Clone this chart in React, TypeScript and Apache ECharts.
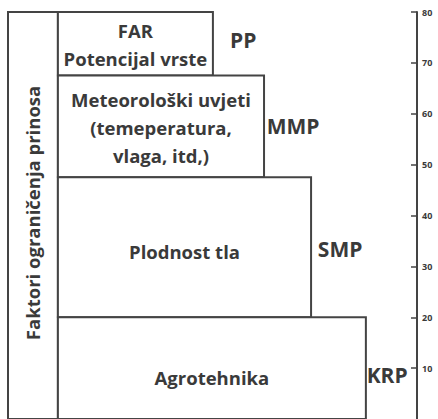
import React, { useEffect, useRef } from "react";
import * as echarts from "echarts";

// Boxes (from top to bottom)
const boxNames = [
  "FAR\nPotencijal vrste",
  "Meteorološki uvjeti\n(temeperatura,\nvlaga, itd,)",
  "Plodnost tla",
  "Agrotehnika",
];
const boxTop = [80, 67.5, 47.5, 20];
const boxBottom = [67.5, 47.5, 20, 0];
const boxLeft = [12.2, 12.2, 12.2, 12.2];
const boxRight = [50.1, 62.6, 74.1, 87.5];
const boxTextY = [73.7, 57.3, 32.9, 8.1];

// Level labels to the right of each box
const levelLabels = ["PP", "MMP", "SMP", "KRP"];
const levelLabelX = [57.5, 69.7, 81.2, 92.7];
const levelLabelY = [74.5, 57.6, 33.5, 8.6];

// Left frame with rotated title
const frameTitle = "Faktori ograničenja prinosa";
const frameRange = [0, 12.2, 0, 80];

// Axis
const yMin = 0;
const yMax = 80;
const yInterval = 10;

const FONT = '"Open Sans", "Noto Sans", sans-serif';
const TEXT_COLOR = "#3a3a3a";
const LINE_COLOR = "#444";

export default function App() {
  const ref = useRef<HTMLDivElement>(null);

  useEffect(() => {
    if (!ref.current) return;
    const chart = echarts.init(ref.current, undefined, { renderer: "svg" });

    const boxData = boxNames.map((_, i) => [
      boxLeft[i],
      boxRight[i],
      boxBottom[i],
      boxTop[i],
      boxTextY[i],
      levelLabelX[i],
      levelLabelY[i],
    ]);

    const option: any = {
      animation: false,
      backgroundColor: "#fff",
      grid: { left: 8, top: 12, width: 409, height: 411.4 },
      xAxis: { type: "value", min: 0, max: 100, show: false },
      yAxis: {
        type: "value",
        position: "right",
        min: yMin,
        max: yMax,
        interval: yInterval,
        axisLine: { show: true, onZero: false, lineStyle: { color: LINE_COLOR, width: 2 } },
        axisTick: { show: true, inside: true, length: 6, lineStyle: { color: LINE_COLOR, width: 1.5 } },
        axisLabel: {
          color: TEXT_COLOR,
          fontSize: 9,
          fontWeight: "bold",
          fontFamily: FONT,
          margin: 5,
          showMinLabel: false,
        },
        splitLine: { show: false },
      },
      series: [
        {
          type: "custom",
          clip: false,
          data: [frameRange],
          renderItem: (params: any, api: any) => {
            const p0 = api.coord([api.value(0), api.value(3)]);
            const p1 = api.coord([api.value(1), api.value(2)]);
            const c = api.coord([(api.value(0) + api.value(1)) / 2, 40.5]);
            return {
              type: "group",
              children: [
                {
                  type: "rect",
                  shape: { x: p0[0], y: p0[1], width: p1[0] - p0[0], height: p1[1] - p0[1] },
                  style: { fill: "#fff", stroke: LINE_COLOR, lineWidth: 2 },
                },
                {
                  type: "text",
                  x: c[0],
                  y: c[1],
                  rotation: Math.PI / 2,
                  style: {
                    text: frameTitle,
                    align: "center",
                    verticalAlign: "middle",
                    fill: TEXT_COLOR,
                    fontSize: 18.5,
                    fontWeight: "bold",
                    fontFamily: FONT,
                  },
                },
              ],
            };
          },
        },
        {
          type: "custom",
          clip: false,
          data: boxData,
          renderItem: (params: any, api: any) => {
            const i = params.dataIndex;
            const x0 = api.value(0);
            const x1 = api.value(1);
            const p0 = api.coord([x0, api.value(3)]);
            const p1 = api.coord([x1, api.value(2)]);
            const tc = api.coord([(x0 + x1) / 2, api.value(4)]);
            const lc = api.coord([api.value(5), api.value(6)]);
            return {
              type: "group",
              children: [
                {
                  type: "rect",
                  shape: { x: p0[0], y: p0[1], width: p1[0] - p0[0], height: p1[1] - p0[1] },
                  style: { fill: "#fff", stroke: LINE_COLOR, lineWidth: 2 },
                },
                {
                  type: "text",
                  x: tc[0],
                  y: tc[1],
                  style: {
                    text: boxNames[i],
                    align: "center",
                    verticalAlign: "middle",
                    fill: TEXT_COLOR,
                    fontSize: 18.5,
                    lineHeight: 28,
                    fontWeight: "bold",
                    fontFamily: FONT,
                  },
                },
                {
                  type: "text",
                  x: lc[0],
                  y: lc[1],
                  style: {
                    text: levelLabels[i],
                    align: "center",
                    verticalAlign: "middle",
                    fill: TEXT_COLOR,
                    fontSize: 21,
                    fontWeight: "bold",
                    fontFamily: FONT,
                  },
                },
              ],
            };
          },
        },
      ],
    };

    chart.setOption(option);
    return () => chart.dispose();
  }, []);

  return (
    <div
      ref={ref}
      style={{ position: "fixed", left: 0, top: 0, width: 438, height: 419 }}
    />
  );
}
